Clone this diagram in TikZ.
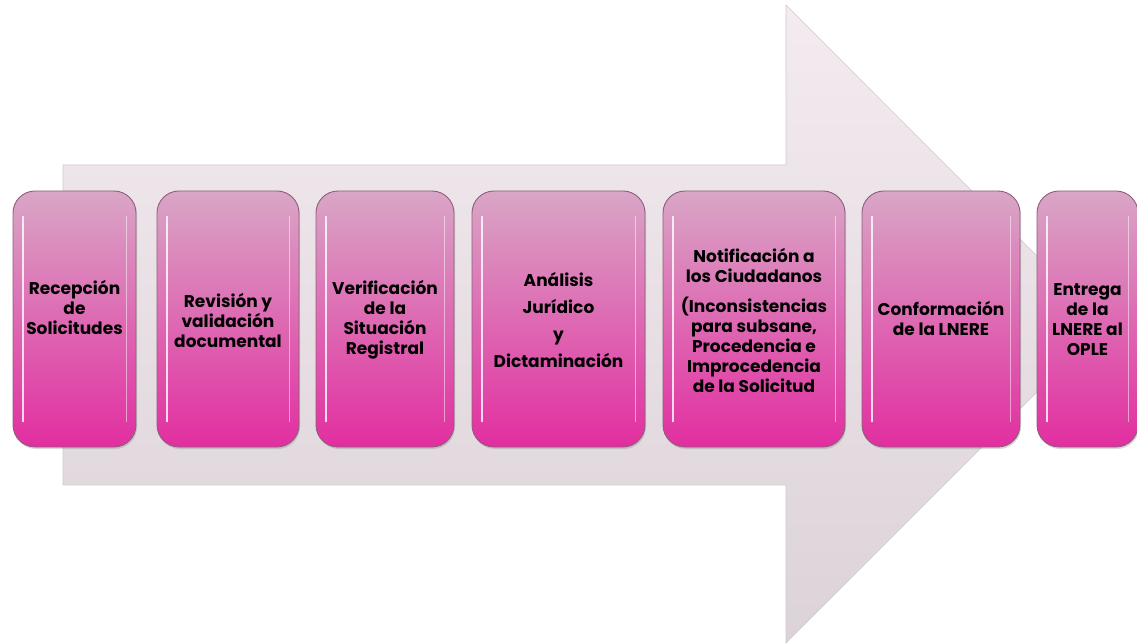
\documentclass[tikz,border=0pt]{standalone}
\usepackage{fontspec}
\setmainfont{Poppins}
\usetikzlibrary{shadows}

\definecolor{arrowtop}{HTML}{F4EBF0}
\definecolor{arrowbottom}{HTML}{DCD3D8}
\definecolor{arrowedge}{HTML}{D2C8CE}
\definecolor{boxtop}{HTML}{D9A6C6}
\definecolor{boxmid}{HTML}{DC78B6}
\definecolor{boxbottom}{HTML}{E22EA0}
\definecolor{boxedge}{HTML}{8E5F7C}

\begin{document}
\begin{tikzpicture}[x=1pt,y=-1pt,
	stepbox/.style={draw=boxedge,line width=0.9pt,rounded corners=22pt,
		top color=boxtop,middle color=boxmid,bottom color=boxbottom,
		minimum height=256pt,inner sep=0pt,
		drop shadow={opacity=0.3,shadow xshift=1pt,shadow yshift=-2pt}},
	steptext/.style={align=center,inner sep=0pt,
		font=\bfseries\fontsize{17}{20}\selectfont}]
	\useasboundingbox (0,0) rectangle (1137,644);

	% big arrow behind the steps
	\draw[arrowedge,top color=arrowtop,bottom color=arrowbottom,line width=0.6pt]
		(63,165) -- (786,165) -- (786,5) -- (1105,324) -- (786,643)
		-- (786,485) -- (63,485) -- cycle;

	% steps
	\node[stepbox,minimum width=123pt] (recepcion)   at (74.5,319)  {};
	\node[stepbox,minimum width=142pt] (revision)    at (228,319)   {};
	\node[stepbox,minimum width=138pt] (verifica)    at (385,319)   {};
	\node[stepbox,minimum width=173pt] (analisis)    at (558.5,319) {};
	\node[stepbox,minimum width=182pt] (notifica)    at (754,319)   {};
	\node[stepbox,minimum width=158pt] (conforma)    at (941,319)   {};
	\node[stepbox,minimum width=101pt] (entrega)     at (1087.5,319) {};

	% glossy edges
	\foreach \s in {recepcion,revision,verifica,analisis,notifica,conforma,entrega}{
		\draw[white,opacity=0.8,line width=2pt,line cap=round]
			([xshift=10pt,yshift=-26pt]\s.north west) -- ([xshift=10pt,yshift=26pt]\s.south west);
		\draw[white,opacity=0.5,line width=1.4pt,line cap=round]
			([xshift=-10pt,yshift=-26pt]\s.north east) -- ([xshift=-10pt,yshift=26pt]\s.south east);
	}

	% labels
	\node[steptext] (t1) at (74.5,307) {Recepción\\de\\Solicitudes};
	\node[steptext] (t2) at (228,320)  {Revisión y\\validación\\documental};
	\node[steptext] (t3) at (385,320)  {Verificación\\de la\\Situación\\Registral};
	\node[steptext] (t4) at (558.5,320) {Análisis\\[7pt]Jurídico\\[7pt]y\\[7pt]Dictaminación};
	\node[steptext] (t5) at (754,320)  {Notificación a\\los Ciudadanos\\[10pt](Inconsistencias\\para subsane,\\Procedencia e\\Improcedencia\\de la Solicitud};
	\node[steptext] (t6) at (941,318)  {Conformación\\de la LNERE};
	\node[steptext] (t7) at (1087.5,320) {Entrega\\de la\\LNERE al\\OPLE};

\end{tikzpicture}
\end{document}
